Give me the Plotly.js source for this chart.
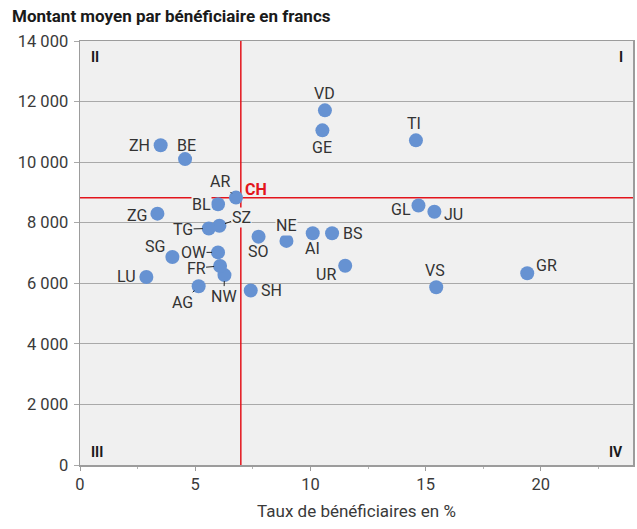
<!DOCTYPE html>
<html>
<head>
<meta charset="utf-8">
<script src="https://cdn.plot.ly/plotly-3.0.1.min.js"></script>
<style>html,body{margin:0;padding:0;background:#fff;}#chart{width:637px;height:529px;}</style>
</head>
<body>
<div id="chart"></div>
<script>
// Data: beneficiary rate (%) and average amount per beneficiary (CHF)
const cantons = ['ZH','BE','LU','UR','SZ','OW','NW','GL','ZG','FR','SO','BS','BL','SH','AR','AI','SG','GR','AG','TG','TI','VD','VS','NE','GE','JU'];
const rates   = [3.50, 4.56, 2.88, 11.51, 6.05, 5.99, 6.27, 14.69, 3.36, 6.08, 7.75, 10.94, 5.99, 7.41, 6.77, 10.10, 4.01, 19.41, 5.15, 5.59, 14.58, 10.63, 15.46, 8.96, 10.52, 15.38];
const amounts = [10560, 10100, 6210, 6580, 7900, 7020, 6270, 8570, 8300, 6570, 7540, 7650, 8610, 5760, 8830, 7650, 6870, 6330, 5900, 7810, 10720, 11710, 5870, 7400, 11050, 8360];
const chLabel = 'CH';
const chRate = 6.98;
const chAmount = 8825;
const quadrants = ['I', 'II', 'III', 'IV'];
const xTitle = 'Taux de bénéficiaires en %';
const yTitle = 'Montant moyen par bénéficiaire en francs';
const xRange = [0, 24];
const yRange = [0, 14000];

// Label placement (styling): [mode, dx, dy] in screen pixels, dy positive downward
const labelPlacement = {
  ZH: ['right', -10, 0], BE: ['center', 1.5, -14], LU: ['right', -9, 0], UR: ['center', -19, 8.3],
  SZ: ['leader', 21.7, -8], OW: ['leader', -24.5, 0], NW: ['leader', -0.6, 21], GL: ['right', -6, 4],
  ZG: ['right', -9.5, 1.7], FR: ['leader', -24, 2], SO: ['center', 0, 14.5], BS: ['left', 9.5, 0.3],
  BL: ['right', -6.5, 0], SH: ['left', 9.5, 0], AR: ['leader', -15.5, -15.6], AI: ['center', -0.7, 15.3],
  SG: ['center', -17.8, -10], GR: ['left', 8, -8], AG: ['leader', -16, 16], TG: ['leader', -25.7, 0.7],
  TI: ['center', -1.7, -16.7], VD: ['center', 0, -16.7], VS: ['center', -1.3, -16.5], NE: ['center', 0, -15],
  GE: ['center', 0, 17.3], JU: ['left', 8.5, 2.6]
};
const masked = ['SZ', 'NE', 'BL'];

const labelFont = {family: 'Roboto, sans-serif', size: 16, color: '#333333'};
const bg = '#f0f0f0';
const red = '#e3141c';

const annotations = [];
cantons.forEach((c, i) => {
  const p = labelPlacement[c];
  const base = {x: rates[i], y: amounts[i], xref: 'x', yref: 'y', text: c, font: labelFont, borderpad: 0};
  if (masked.indexOf(c) >= 0) base.bgcolor = bg;
  if (p[0] === 'leader') {
    annotations.push(Object.assign(base, {showarrow: true, ax: p[1], ay: p[2],
      arrowhead: 0, arrowwidth: 1, arrowcolor: '#222222', standoff: 6}));
  } else {
    annotations.push(Object.assign(base, {showarrow: false, xanchor: p[0], yanchor: 'middle',
      xshift: p[1], yshift: -p[2]}));
  }
});
// CH label at red-line intersection
annotations.push({x: chRate, y: chAmount, xref: 'x', yref: 'y', text: '<b>' + chLabel + '</b>',
  showarrow: false, xanchor: 'left', yanchor: 'middle', xshift: 2, yshift: 8.4,
  font: {family: 'Roboto, sans-serif', size: 16, color: red}});
// Quadrant numerals
const qFont = {family: 'Roboto, sans-serif', size: 14, color: '#1a1a1a'};
const qPos = {
  'I':   {x: 1, y: 1, xanchor: 'right', yanchor: 'middle', xshift: -8, yshift: -16},
  'II':  {x: 0, y: 1, xanchor: 'left', yanchor: 'middle', xshift: 9, yshift: -16},
  'III': {x: 0, y: 0, xanchor: 'left', yanchor: 'middle', xshift: 9, yshift: 13},
  'IV':  {x: 1, y: 0, xanchor: 'right', yanchor: 'middle', xshift: -8, yshift: 13}
};
quadrants.forEach(q => {
  annotations.push(Object.assign({xref: 'paper', yref: 'paper', text: '<b>' + q + '</b>',
    showarrow: false, font: qFont}, qPos[q]));
});

const refV = {x: [chRate, chRate], y: yRange, mode: 'lines', type: 'scatter', hoverinfo: 'skip',
  line: {color: red, width: 1.5}, cliponaxis: true};
const refH = {x: xRange, y: [chAmount, chAmount], mode: 'lines', type: 'scatter', hoverinfo: 'skip',
  line: {color: red, width: 1.5}, cliponaxis: true};
const trace = {
  x: rates, y: amounts, mode: 'markers', type: 'scatter', hoverinfo: 'skip',
  marker: {size: 14, color: '#6692d2', line: {width: 0}}
};

const tickFont = {family: 'Roboto, sans-serif', size: 16.5, color: '#3a3a3a'};
const layout = {
  width: 637, height: 529,
  margin: {l: 80, r: 4, t: 41, b: 64},
  paper_bgcolor: '#ffffff', plot_bgcolor: bg,
  separators: ', ',
  showlegend: false,
  font: {family: 'Roboto, sans-serif', color: '#333333'},
  title: {text: '<b>' + yTitle + '</b>', font: {family: 'Roboto, sans-serif', size: 17, color: '#1a1a1a'},
          xref: 'container', yref: 'container', x: 12/637, xanchor: 'left', y: 1 - 15.7/529, yanchor: 'middle'},
  xaxis: {
    range: xRange, dtick: 5, tick0: 0, showgrid: false, zeroline: false,
    showline: true, mirror: true, linecolor: '#9c9c9c', linewidth: 1.5,
    ticks: 'outside', ticklen: 4, tickcolor: '#9c9c9c', tickwidth: 1,
    minor: {dtick: 2.5, ticks: 'outside', ticklen: 2, tickcolor: '#b5b5b5', showgrid: false},
    tickfont: tickFont,
    title: {text: xTitle, font: {family: 'Roboto, sans-serif', size: 17, color: '#3a3a3a'}, standoff: 12},
    fixedrange: true
  },
  yaxis: {
    range: yRange, dtick: 2000, tick0: 0, showgrid: true, gridcolor: '#a9a9a9', gridwidth: 1,
    zeroline: false, showline: true, mirror: true, linecolor: '#9c9c9c', linewidth: 1.5,
    ticks: 'outside', ticklen: 5, tickcolor: '#a9a9a9', tickwidth: 1,
    separatethousands: true, tickformat: ',d',
    tickfont: tickFont, ticklabelstandoff: 2,
    fixedrange: true
  },
  annotations: annotations
};

Plotly.newPlot('chart', [refV, refH, trace], layout, {staticPlot: true, displayModeBar: false});
</script>
</body>
</html>
